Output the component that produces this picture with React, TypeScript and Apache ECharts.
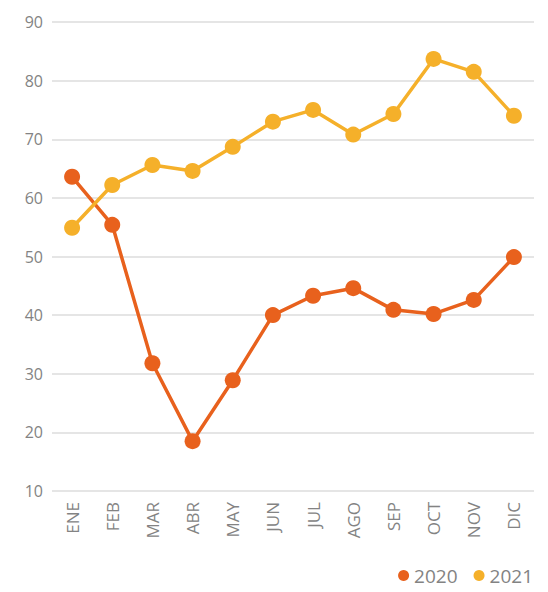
import React, { useEffect, useRef } from "react";
import * as echarts from "echarts";

const months = ["ENE", "FEB", "MAR", "ABR", "MAY", "JUN", "JUL", "AGO", "SEP", "OCT", "NOV", "DIC"];
const values2020 = [63.6, 55.4, 31.8, 18.5, 28.9, 40.0, 43.3, 44.6, 40.9, 40.2, 42.6, 49.9];
const values2021 = [54.9, 62.2, 65.6, 64.6, 68.7, 73.0, 75.0, 70.8, 74.3, 83.7, 81.5, 74.0];
const yTicks = [10, 20, 30, 40, 50, 60, 70, 80, 90];

const C2020 = "#E8611D";
const C2021 = "#F5B02A";
const FONT = "'Open Sans', 'Noto Sans', sans-serif";
const GRAY = "#838383";

export default function App() {
  const ref = useRef<HTMLDivElement>(null);
  useEffect(() => {
    if (!ref.current) return;
    const chart = echarts.init(ref.current, undefined, { renderer: "svg" });
    chart.setOption({
      animation: false,
      backgroundColor: "#ffffff",
      textStyle: { fontFamily: FONT },
      grid: { left: 52, right: 14, top: 22, bottom: 101, containLabel: false },
      legend: {
        right: 10,
        bottom: 2,
        itemWidth: 11,
        itemHeight: 11,
        itemGap: 16,
        icon: "circle",
        textStyle: { color: GRAY, fontSize: 19, fontFamily: FONT },
        data: ["2020", "2021"],
      },
      xAxis: {
        type: "category",
        data: months,
        boundaryGap: true,
        axisLine: { show: false },
        axisTick: { show: false },
        axisLabel: { rotate: 90, color: GRAY, fontSize: 17, margin: 11, fontFamily: FONT },
      },
      yAxis: {
        type: "value",
        min: yTicks[0],
        max: yTicks[yTicks.length - 1],
        interval: 10,
        axisLine: { show: false },
        axisTick: { show: false },
        axisLabel: { color: GRAY, fontSize: 16, margin: 9, fontFamily: FONT },
        splitLine: { lineStyle: { color: "#dcdcdc", width: 1.5 } },
      },
      series: [
        {
          name: "2020",
          type: "line",
          data: values2020,
          color: C2020,
          symbol: "circle",
          symbolSize: 16,
          lineStyle: { width: 3.5, color: C2020 },
          itemStyle: { color: C2020 },
        },
        {
          name: "2021",
          type: "line",
          data: values2021,
          color: C2021,
          symbol: "circle",
          symbolSize: 16,
          lineStyle: { width: 3.5, color: C2021 },
          itemStyle: { color: C2021 },
        },
      ],
    });
    return () => chart.dispose();
  }, []);
  return <div ref={ref} style={{ width: 548, height: 592, position: "absolute", left: 0, top: 0 }} />;
}
